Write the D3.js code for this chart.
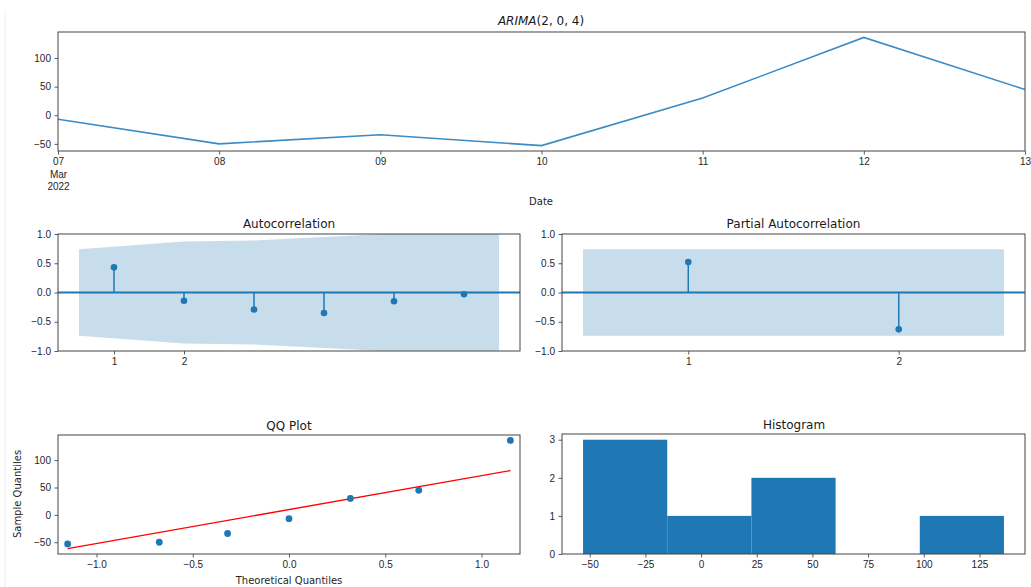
<!DOCTYPE html>
<html lang="en">
<head>
<meta charset="UTF-8">
<title>ARIMA(2, 0, 4) diagnostics</title>
<script src="https://cdnjs.cloudflare.com/ajax/libs/d3/7.8.5/d3.min.js"></script>
<style>
    body { margin: 0; background: #fff; }
    svg { display: block; font-family: "DejaVu Sans", sans-serif; }
    .tick text { font-size: 10px; fill: #262626; }
    .tick line { stroke: #333; stroke-width: 0.8; }
    .frame { fill: none; stroke: #444; stroke-width: 1; }
    .ttl { font-size: 12px; fill: #1a1a1a; text-anchor: middle; }
    .lbl { font-size: 10px; fill: #262626; text-anchor: middle; }
</style>
</head>
<body>
<svg width="1031" height="587"></svg>
<script>
// residual series, 07..13 Mar 2022
const dates = ["2022-03-07", "2022-03-08", "2022-03-09", "2022-03-10", "2022-03-11", "2022-03-12", "2022-03-13"];
const resid = [-7, -50, -34, -53, 30, 136, 45];

// autocorrelation (lags 1..6) and its confidence band half-width
const acfLags = [1, 2, 3, 4, 5, 6];
const acfVals = [0.43, -0.14, -0.29, -0.35, -0.15, -0.03];
const acfBand = [0.74, 0.87, 0.89, 0.95, 1.01, 1.02];

// partial autocorrelation (lags 1..2)
const pacfLags = [1, 2];
const pacfVals = [0.52, -0.63];
const pacfBand = [0.74, 0.74];

// QQ plot: theoretical normal quantiles and the fitted line
const theoQ = [-1.15, -0.674, -0.319, 0, 0.319, 0.674, 1.15];
const qqIntercept = 9.7, qqSlope = 62;

const histBins = 5;

const blue = "#1f77b4";
const svg = d3.select("svg");

svg.append("line").attr("x1", 5).attr("x2", 5).attr("y1", 10).attr("y2", 587)
    .attr("stroke", "#eee");

function panel(box) {
    const g = svg.append("g");
    g.append("defs").append("clipPath").attr("id", box.id)
        .append("rect").attr("x", box.x0).attr("y", box.y0)
        .attr("width", box.x1 - box.x0).attr("height", box.y1 - box.y0);
    const plot = g.append("g").attr("clip-path", `url(#${box.id})`);
    return { g, plot };
}

function frame(g, box) {
    g.append("rect").attr("class", "frame")
        .attr("x", box.x0).attr("y", box.y0)
        .attr("width", box.x1 - box.x0).attr("height", box.y1 - box.y0);
}

function axes(g, box, x, y, xt, yt, xf, yf) {
    const ax = g.append("g").attr("transform", `translate(0,${box.y1})`)
        .call(d3.axisBottom(x).tickValues(xt).tickFormat(xf).tickSize(3.5).tickPadding(3.5));
    const ay = g.append("g").attr("transform", `translate(${box.x0},0)`)
        .call(d3.axisLeft(y).tickValues(yt).tickFormat(yf).tickSize(3.5).tickPadding(3.5));
    ax.select(".domain").remove();
    ay.select(".domain").remove();
    return ax;
}

// ---------- top: residual line ----------
{
    const box = { id: "c0", x0: 58, x1: 1025, y0: 32, y1: 151 };
    const { g, plot } = panel(box);
    const parse = d3.utcParse("%Y-%m-%d");
    const pts = dates.map((d, i) => ({ t: parse(d), v: resid[i] }));
    const x = d3.scaleUtc().domain(d3.extent(pts, d => d.t)).range([box.x0, box.x1]);
    const [lo, hi] = d3.extent(resid), pad = (hi - lo) * 0.05;
    const y = d3.scaleLinear().domain([lo - pad, hi + pad]).range([box.y1, box.y0]);

    plot.append("path").datum(pts)
        .attr("fill", "none").attr("stroke", "#3b8bc4").attr("stroke-width", 1.6)
        .attr("d", d3.line().x(d => x(d.t)).y(d => y(d.v)));

    const ax = axes(g, box, x, y, pts.map(d => d.t), [-50, 0, 50, 100],
        d3.utcFormat("%d"), d3.format("d"));
    // first tick carries month and year, as pandas does
    ax.selectAll(".tick text").filter((d, i) => i === 0).each(function () {
        const t = d3.select(this);
        t.append("tspan").attr("x", 0).attr("dy", "1.25em").text("Mar");
        t.append("tspan").attr("x", 0).attr("dy", "1.25em").text("2022");
    });
    frame(g, box);

    const title = svg.append("text").attr("class", "ttl").attr("x", 541).attr("y", 25);
    title.append("tspan").attr("font-style", "italic").text("ARIMA");
    title.append("tspan").text("(2, 0, 4)");
    svg.append("text").attr("class", "lbl").attr("x", 541).attr("y", 205).text("Date");
}

// ---------- correlogram panels ----------
function correlogram(box, lags, vals, band, title) {
    const { g, plot } = panel(box);
    const n = lags.length;
    const lo = lags[0] - 0.5, hi = lags[n - 1] + 0.5, m = (hi - lo) * 0.05;
    const x = d3.scaleLinear().domain([lo - m, hi + m]).range([box.x0, box.x1]);
    const y = d3.scaleLinear().domain([-1, 1]).range([box.y1, box.y0]);

    // band edges are pushed out half a lag at both ends
    const bandPts = lags.map((l, i) => ({ l: i === 0 ? l - 0.5 : (i === n - 1 ? l + 0.5 : l), b: band[i] }));
    plot.append("path").datum(bandPts)
        .attr("fill", blue).attr("fill-opacity", 0.25)
        .attr("d", d3.area().x(d => x(d.l)).y0(d => y(-d.b)).y1(d => y(d.b)));

    plot.append("line").attr("x1", box.x0).attr("x2", box.x1)
        .attr("y1", y(0)).attr("y2", y(0)).attr("stroke", blue).attr("stroke-width", 1.8);

    plot.selectAll(".stem").data(lags).join("line")
        .attr("x1", d => x(d)).attr("x2", d => x(d))
        .attr("y1", y(0)).attr("y2", (d, i) => y(vals[i]))
        .attr("stroke", blue).attr("stroke-width", 1.5);
    plot.selectAll(".dot").data(lags).join("circle")
        .attr("cx", d => x(d)).attr("cy", (d, i) => y(vals[i])).attr("r", 3.3)
        .attr("fill", blue);

    axes(g, box, x, y, [1, 2], [-1, -0.5, 0, 0.5, 1], d3.format("d"), d3.format(".1f"));
    frame(g, box);
    svg.append("text").attr("class", "ttl").attr("x", (box.x0 + box.x1) / 2).attr("y", 228).text(title);
}

correlogram({ id: "c1", x0: 58, x1: 520, y0: 234, y1: 351 }, acfLags, acfVals, acfBand, "Autocorrelation");
correlogram({ id: "c2", x0: 562, x1: 1025, y0: 234, y1: 351 }, pacfLags, pacfVals, pacfBand, "Partial Autocorrelation");

// ---------- QQ plot ----------
{
    const box = { id: "c3", x0: 58, x1: 520, y0: 435, y1: 554 };
    const { g, plot } = panel(box);
    const sorted = resid.slice().sort(d3.ascending);
    const pts = theoQ.map((q, i) => ({ q, v: sorted[i] }));
    const x = d3.scaleLinear().domain([-1.2, 1.2]).range([box.x0, box.x1]);
    const lineEnds = d3.extent(theoQ).map(q => ({ q, v: qqIntercept + qqSlope * q }));
    const lo = Math.min(d3.min(sorted), d3.min(lineEnds, d => d.v));
    const hi = Math.max(d3.max(sorted), d3.max(lineEnds, d => d.v));
    const m = (hi - lo) * 0.05;
    const y = d3.scaleLinear().domain([lo - m, hi + m]).range([box.y1, box.y0]);

    plot.append("path").datum(lineEnds)
        .attr("fill", "none").attr("stroke", "#f00").attr("stroke-width", 1.4)
        .attr("d", d3.line().x(d => x(d.q)).y(d => y(d.v)));
    plot.selectAll("circle").data(pts).join("circle")
        .attr("cx", d => x(d.q)).attr("cy", d => y(d.v)).attr("r", 3.4).attr("fill", blue);

    axes(g, box, x, y, [-1, -0.5, 0, 0.5, 1], [-50, 0, 50, 100], d3.format(".1f"), d3.format("d"));
    frame(g, box);
    svg.append("text").attr("class", "ttl").attr("x", 289).attr("y", 430).text("QQ Plot");
    svg.append("text").attr("class", "lbl").attr("x", 289).attr("y", 584).text("Theoretical Quantiles");
    svg.append("text").attr("class", "lbl")
        .attr("transform", "translate(21,494) rotate(-90)").text("Sample Quantiles");
}

// ---------- histogram ----------
{
    const box = { id: "c4", x0: 562, x1: 1025, y0: 434, y1: 554 };
    const { g, plot } = panel(box);
    const [lo, hi] = d3.extent(resid);
    const w = (hi - lo) / histBins;
    const thresholds = d3.range(1, histBins).map(i => lo + i * w);
    const bins = d3.bin().domain([lo, hi]).thresholds(thresholds)(resid);
    const m = (hi - lo) * 0.05;
    const x = d3.scaleLinear().domain([lo - m, hi + m]).range([box.x0, box.x1]);
    const ymax = d3.max(bins, b => b.length);
    const y = d3.scaleLinear().domain([0, ymax * 1.05]).range([box.y1, box.y0]);

    plot.selectAll("rect").data(bins).join("rect")
        .attr("x", d => x(d.x0)).attr("width", d => x(d.x1) - x(d.x0))
        .attr("y", d => y(d.length)).attr("height", d => y(0) - y(d.length))
        .attr("fill", blue);

    axes(g, box, x, y, d3.range(-50, 126, 25), [0, 1, 2, 3], d3.format("d"), d3.format("d"));
    frame(g, box);
    svg.append("text").attr("class", "ttl").attr("x", 794).attr("y", 429).text("Histogram");
}
</script>
</body>
</html>
